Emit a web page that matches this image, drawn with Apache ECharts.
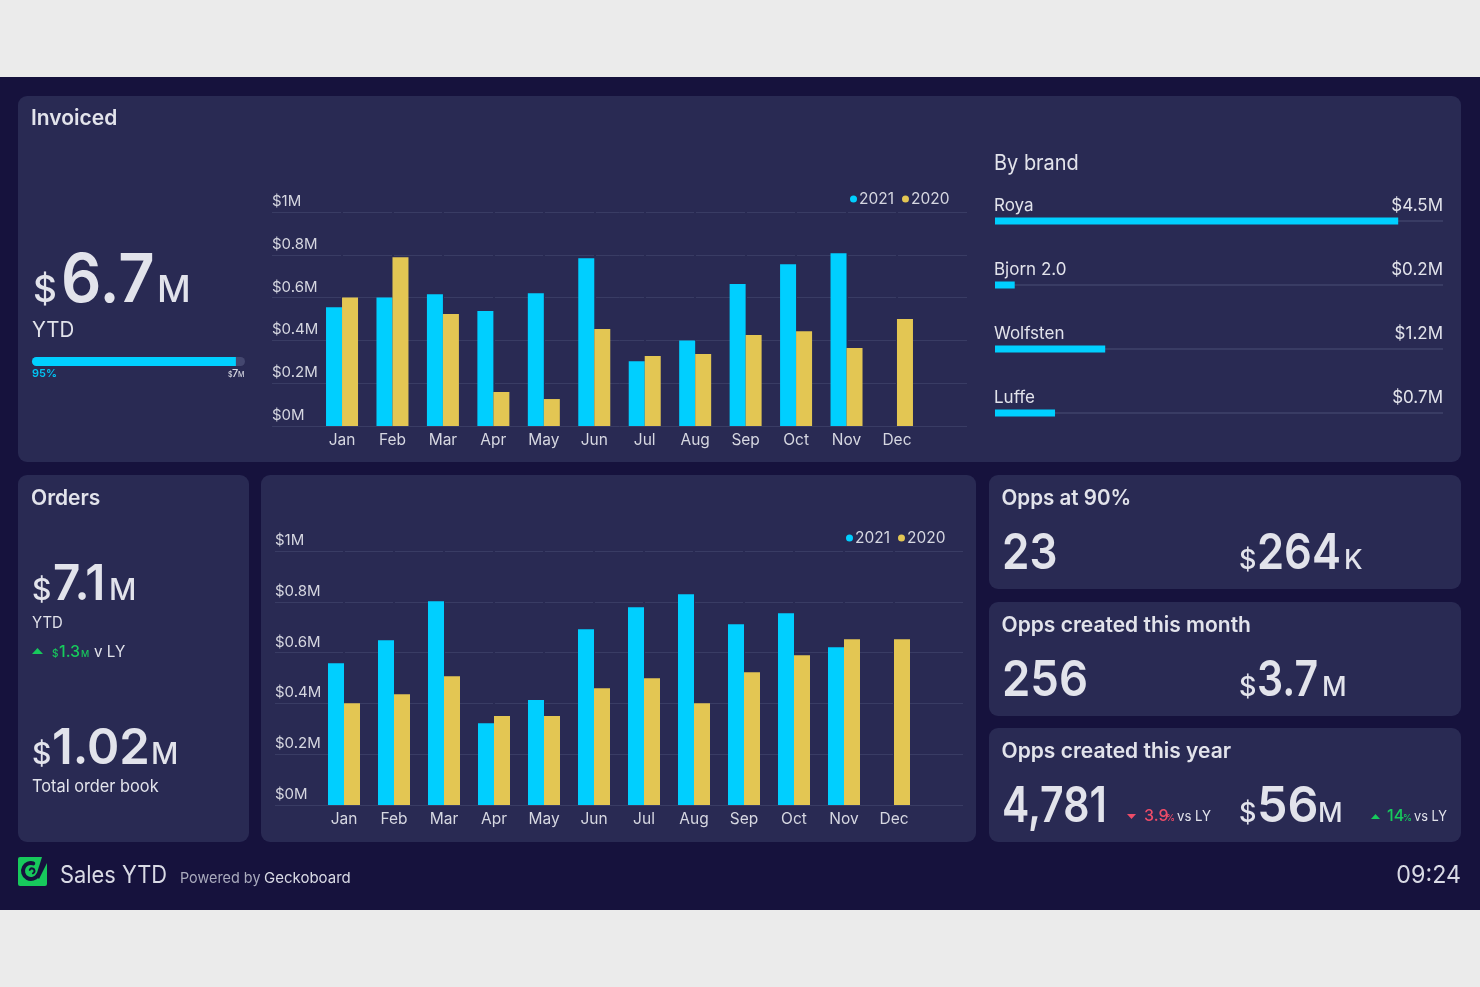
<!DOCTYPE html>
<html>
<head>
<meta charset="utf-8">
<title>Sales YTD</title>
<style>
html,body{margin:0;padding:0;background:#ebebeb;}
#main{width:1480px;height:987px;}
</style>
<script src="https://cdn.jsdelivr.net/npm/echarts@6/dist/echarts.min.js"></script>
</head>
<body>
<div id="main"></div>
<script>
var months=['Jan','Feb','Mar','Apr','May','Jun','Jul','Aug','Sep','Oct','Nov','Dec'];
var yLabels=['$0M','$0.2M','$0.4M','$0.6M','$0.8M','$1M'];

//Invoiced, $M per month
var invoiced2021=[0.555,0.60,0.616,0.537,0.62,0.784,0.303,0.40,0.663,0.756,0.807,null];
var invoiced2020=[0.60,0.789,0.523,0.159,0.126,0.453,0.327,0.336,0.425,0.443,0.364,0.50];

//Orders, $M per month
var orders2021=[0.558,0.649,0.802,0.322,0.413,0.692,0.779,0.83,0.712,0.755,0.621,null];
var orders2020=[0.401,0.436,0.507,0.35,0.35,0.46,0.499,0.401,0.523,0.59,0.653,0.653];

//By brand
var brandNames=['Roya','Bjorn 2.0','Wolfsten','Luffe'];
var brandLabels=['$4.5M','$0.2M','$1.2M','$0.7M'];
var brandValues=[4.5,0.22,1.23,0.67];

//YTD progress
var ytdValue=[6.7];
var ytdTarget=7;

var CYAN='#00cfff',GOLD='#e3c653',PANEL='#292a53',DARK='#16123d',GRID='#393c64';
var TEXT='#e2e3eb',AXIS_TEXT='#d6d7e1',GREEN='#17c95c',RED='#ee4c68',FONT='Inter';

var graphics=[];

function panel(x,y,w,h){
    graphics.push({type:'rect',z:-10,shape:{x:x,y:y,width:w,height:h,r:9},style:{fill:PANEL}});
}
//draws a text on its baseline, sx squeezes it sideways
function txt(x,base,str,size,color,weight,align,sx){
    graphics.push({type:'text',z:10,x:x,y:base-0.30*size,scaleX:sx||1,style:{
        text:str,fill:color||TEXT,align:align||'left',verticalAlign:'middle',
        font:(weight||400)+' '+size+'px '+FONT
    }});
}
function tri(x,y,w,h,color,down){
    var pts=down?[[x,y],[x+w,y],[x+w/2,y+h]]:[[x,y+h],[x+w,y+h],[x+w/2,y]];
    graphics.push({type:'polygon',z:10,shape:{points:pts},style:{fill:color}});
}
//"$" + number + unit
function money(xs,base,num,unit,big,small,xn,xu,sx){
    txt(xs,base,'$',small,TEXT,500);
    txt(xn,base,num,big,TEXT,600,'left',sx);
    txt(xu,base,unit,small,TEXT,500);
}

graphics.push({type:'rect',z:-11,shape:{x:0,y:77,width:1480,height:833},style:{fill:DARK}});
panel(18,96,1443,366);
panel(18,475,231,367);
panel(261,475,715,367);
panel(989,475,472,114);
panel(989,602,472,114);
panel(989,728,472,114);

txt(31,125,'Invoiced',21,TEXT,600);
money(33,302,'6.7','M',68,37,61,157,0.93);
txt(32,337,'YTD',22,TEXT,400,'left',0.93);
txt(32,377,'95%',11,'#00c4f4',600);
txt(228,377,'$',7,AXIS_TEXT,500);
txt(232,377,'7',11,AXIS_TEXT,500);
txt(238,377,'M',7,AXIS_TEXT,500);
txt(994,170,'By brand',21,TEXT,400,'left',0.95);

txt(31,505,'Orders',21,TEXT,600);
money(32,600,'7.1','M',50,30,53,109,0.95);
txt(32,628,'YTD',16,TEXT,400,'left',0.93);
tri(32,648,11,6,GREEN);
txt(52,657,'$',10,GREEN,500);
txt(59,657,'1.3',16,GREEN,500);
txt(81,657,'M',9,GREEN,500);
txt(94,657,'v LY',16,TEXT,400,'left',0.95);
money(32,764,'1.02','M',50,30,52,151,0.98);
txt(32,792,'Total order book',17,TEXT,400,'left',0.96);

txt(1001.5,505,'Opps at 90%',21,TEXT,600,'left',0.98);
txt(1002,569,'23',50,TEXT,600,'left',0.88);
money(1239,569,'264','K',50,27,1257,1344,0.87);

txt(1001.5,632,'Opps created this month',21,TEXT,600);
txt(1002,696,'256',50,TEXT,600,'left',0.91);
money(1239,696,'3.7','M',50,27,1257,1322,0.82);

txt(1001.5,758,'Opps created this year',21,TEXT,600);
txt(1002,822,'4,781',50,TEXT,600,'left',0.82);
money(1239,822,'56','M',50,27,1257,1318,0.97);
tri(1127,814,9,5,RED,true);
txt(1144,821,'3.9',16,RED,500);
txt(1166,821,'%',9,RED,500);
txt(1177,821,'vs LY',14.5,TEXT,400,'left',0.91);
tri(1371,814,9,5,GREEN);
txt(1387,821,'14',16,GREEN,500);
txt(1403,821,'%',9,GREEN,500);
txt(1414,821,'vs LY',14.5,TEXT,400,'left',0.88);

//logo
graphics.push({type:'rect',z:10,shape:{x:18,y:857,width:29,height:29,r:2},style:{fill:GREEN}});
graphics.push({type:'arc',z:11,shape:{cx:31,cy:871,r:8,startAngle:0.5,endAngle:5.0,clockwise:true},
    style:{fill:'none',stroke:DARK,lineWidth:4,lineCap:'round'}});
graphics.push({type:'arc',z:11,shape:{cx:32,cy:871,r:2.5,startAngle:3.6,endAngle:1.2,clockwise:true},
    style:{fill:'none',stroke:DARK,lineWidth:2,lineCap:'round'}});
graphics.push({type:'polygon',z:11,shape:{points:[[42,857],[48,856],[48,861],[39,879],[36,876]]},style:{fill:DARK}});
txt(60,883,'Sales YTD',24,'#d9dae5',400,'left',0.91);
txt(180,883,'Powered by',15,'#a9aabd',400,'left',0.96);
txt(264,883,'Geckoboard',15,'#d9dae5');
txt(1461,883,'09:24',24,'#d9dae5',400,'right',0.97);

function lineGrid(left,width,top,height){
    return {left:left,width:width,top:top,height:height};
}
function legend(left,top){
    return {left:left,top:top,orient:'horizontal',icon:'circle',itemWidth:7,itemHeight:7,itemGap:8,selectedMode:false,
        data:['2021','2020'],textStyle:{color:AXIS_TEXT,fontFamily:FONT,fontSize:15.5,padding:[0,0,0,-3]}};
}
function gridlinesY(idx){
    return {type:'value',gridIndex:idx,min:0,max:1,interval:0.2,axisLine:{show:false},axisTick:{show:false},
        splitLine:{show:true,lineStyle:{color:GRID,width:1}},
        axisLabel:{inside:true,margin:0,verticalAlign:'bottom',padding:[0,0,3,0],color:AXIS_TEXT,fontFamily:FONT,fontSize:15,
            formatter:function(v){return yLabels[Math.round(v/0.2)];}}};
}
function barsX(idx,height,margin){
    return {type:'category',gridIndex:idx,data:months,z:1,axisLine:{show:false},
        axisTick:{show:true,inside:true,alignWithLabel:true,length:height,lineStyle:{color:PANEL,width:2}},
        axisLabel:{color:AXIS_TEXT,fontFamily:FONT,fontSize:15.5,margin:margin}};
}
function bar(name,data,color,axis){
    return {name:name,type:'bar',data:data,xAxisIndex:axis,yAxisIndex:axis,barWidth:16,barGap:0,
        itemStyle:{color:color},silent:true};
}

var option={
    backgroundColor:'#ebebeb',
    animation:false,
    textStyle:{fontFamily:FONT},
    graphic:graphics,
    legend:[legend(845,186),legend(841,525)],
    grid:[
        lineGrid(272,695,212,214),
        lineGrid(316.8,605.4,212,214),
        lineGrid(275,688,551,254),
        lineGrid(319,600,551,254),
        lineGrid(995,448,189,256),
        lineGrid(32,213,357,9)
    ],
    xAxis:[
        {type:'category',gridIndex:0,show:false,data:months},
        barsX(1,214,6),
        {type:'category',gridIndex:2,show:false,data:months},
        barsX(3,254,6),
        {type:'value',gridIndex:4,min:0,max:5,show:false},
        {type:'value',gridIndex:5,min:0,max:ytdTarget,show:false}
    ],
    yAxis:[
        gridlinesY(0),
        {type:'value',gridIndex:1,min:0,max:1,show:false},
        gridlinesY(2),
        {type:'value',gridIndex:3,min:0,max:1,show:false},
        {type:'category',gridIndex:4,inverse:true,data:brandNames,axisLine:{show:false},
            axisTick:{show:true,inside:true,alignWithLabel:true,length:448,lineStyle:{color:GRID,width:2}},
            axisLabel:{inside:true,margin:-1,verticalAlign:'bottom',padding:[0,0,7,0],color:TEXT,fontFamily:FONT,fontSize:17}},
        {type:'category',gridIndex:5,show:false,data:['YTD']},
        {type:'category',gridIndex:4,position:'right',inverse:true,data:brandLabels,axisLine:{show:false},axisTick:{show:false},
            axisLabel:{inside:true,margin:0,verticalAlign:'bottom',padding:[0,0,7,0],color:TEXT,fontFamily:FONT,fontSize:17}}
    ],
    series:[
        bar('2021',invoiced2021,CYAN,1),
        bar('2020',invoiced2020,GOLD,1),
        bar('2021',orders2021,CYAN,3),
        bar('2020',orders2020,GOLD,3),
        {type:'bar',data:brandValues,xAxisIndex:4,yAxisIndex:4,barWidth:7,itemStyle:{color:CYAN},silent:true},
        {type:'bar',data:ytdValue,xAxisIndex:5,yAxisIndex:5,barWidth:9,silent:true,
            itemStyle:{color:CYAN,borderRadius:[4.5,0,0,4.5]},
            showBackground:true,backgroundStyle:{color:'#44476f',borderRadius:4.5}}
    ]
};

var _myChart=echarts.init(document.getElementById('main'));
_myChart.setOption(option);
</script>
</body>
</html>
